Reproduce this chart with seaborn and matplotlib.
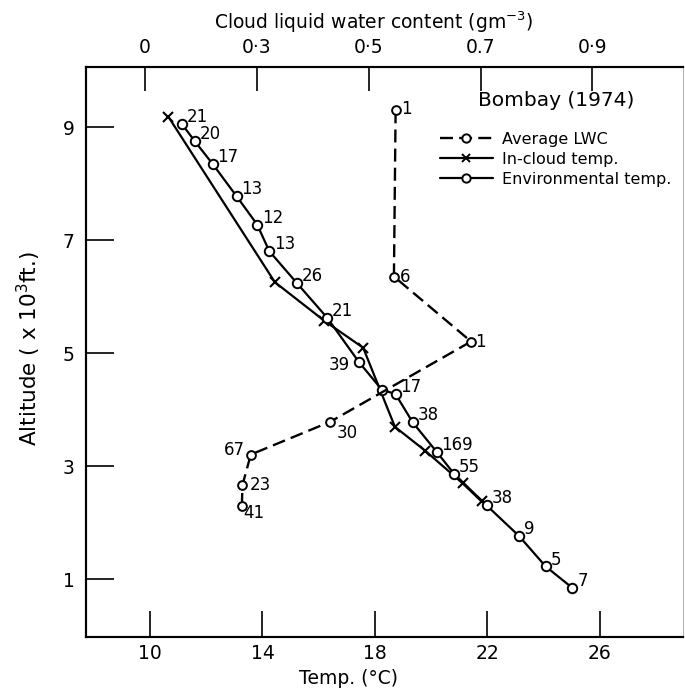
import matplotlib
matplotlib.use("Agg")
import matplotlib.pyplot as plt
import seaborn as sns
from matplotlib.lines import Line2D

# ---------------- data ----------------
# Environmental temperature (deg C) and altitude (x10^3 ft), with sample counts
env_temp = [11.13, 11.60, 12.23, 13.08, 13.81, 14.24, 15.23, 16.30, 17.44,
            18.24, 18.73, 19.34, 20.19, 20.81, 21.97, 23.12, 24.07, 25.02]
env_alt = [9.06, 8.75, 8.35, 7.78, 7.28, 6.81, 6.24, 5.63, 4.84,
           4.36, 4.28, 3.78, 3.26, 2.87, 2.31, 1.77, 1.23, 0.85]
env_count = ["21", "20", "17", "13", "12", "13", "26", "21", "39",
             "", "17", "38", "169", "55", "38", "9", "5", "7"]

# In-cloud temperature
cloud_temp = [10.65, 14.44, 16.19, 17.58, 18.71, 19.78, 21.12, 21.79]
cloud_alt = [9.19, 6.26, 5.58, 5.10, 3.70, 3.28, 2.70, 2.38]

# Average cloud liquid water content (g m^-3)
lwc = [0.548, 0.545, 0.683, 0.431, 0.289, 0.274, 0.273]
lwc_alt = [9.30, 6.36, 5.21, 3.79, 3.21, 2.67, 2.30]
lwc_count = ["1", "6", "1", "30", "67", "23", "41"]

temp_ticks = [10, 14, 18, 22, 26]
alt_ticks = [1, 3, 5, 7, 9]
lwc_ticks = [0.1, 0.3, 0.5, 0.7, 0.9]
lwc_ticklabels = ["0", "0·3", "0·5", "0.7", "0·9"]

# ---------------- style ----------------
sns.set_theme(style="ticks", rc={"text.color": "black",
                                 "axes.labelcolor": "black",
                                 "xtick.color": "black",
                                 "ytick.color": "black",
                                 "axes.edgecolor": "black"})
plt.rcParams["font.family"] = ["DejaVu Sans"]

fig = plt.figure(figsize=(6.85, 6.9), dpi=100)
ax = fig.add_axes([0.1255, 0.0773, 0.8715, 0.8256])
ax2 = ax.twiny()

LW = 1.6
dash = (0, (5.5, 2.6))

sns.lineplot(x=env_temp, y=env_alt, sort=False, estimator=None, ax=ax,
             color="black", lw=LW, marker="o", markersize=6.8,
             markerfacecolor="white", markeredgecolor="black",
             markeredgewidth=1.4, legend=False, zorder=3)
sns.lineplot(x=cloud_temp, y=cloud_alt, sort=False, estimator=None, ax=ax,
             color="black", lw=LW, marker="x", markersize=6.5,
             markeredgewidth=1.5, markeredgecolor="black", legend=False,
             zorder=2)
sns.lineplot(x=lwc, y=lwc_alt, sort=False, estimator=None, ax=ax2,
             color="black", lw=1.7, linestyle=dash, marker="o", markersize=6.3,
             markerfacecolor="white", markeredgecolor="black",
             markeredgewidth=1.4, legend=False, zorder=3)

# ---------------- axes ----------------
ax.set_xlim(7.724, 28.95)
ax.set_ylim(-0.012, 10.067)
ax2.set_xlim(-0.0059, 1.062)

ax.set_xticks(temp_ticks)
ax.set_yticks(alt_ticks)
ax2.set_xticks(lwc_ticks)
ax2.set_xticklabels(lwc_ticklabels)

ax.tick_params(axis="x", which="both", direction="in", length=19, width=1.2,
               labelsize=13.5, pad=5, top=False, bottom=True,
               colors="black", labelcolor="black")
ax.tick_params(axis="y", which="both", direction="in", length=20, width=1.2,
               labelsize=13.5, pad=8, left=True, right=False,
               colors="black", labelcolor="black")
ax2.tick_params(axis="x", which="both", direction="in", length=17, width=1.2,
                labelsize=13.5, pad=7, top=True, bottom=False,
                colors="black", labelcolor="black")

for a in (ax, ax2):
    for side in ("left", "bottom", "top"):
        a.spines[side].set_linewidth(1.5)
        a.spines[side].set_color("black")
    a.spines["right"].set_linewidth(0.7)
    a.spines["right"].set_color("#b0b0b0")
    a.spines["right"].set_visible(True)
    a.spines["top"].set_visible(True)

ax.set_xlabel("Temp. (°C)", fontsize=13.5, color="black")
ax.xaxis.set_label_coords(0.44, -0.056)
ax.set_ylabel("Altitude ( x 10$^3$ft.)", fontsize=15.5, color="black")
ax.yaxis.set_label_coords(-0.072, 0.505)
ax2.set_xlabel("Cloud liquid water content (gm$^{-3}$)", fontsize=13.5,
               color="black")
ax2.xaxis.set_label_coords(0.482, 1.066)
ax2.set_ylabel("")

# ---------------- point labels ----------------
LBL = 12
env_pos = {8: ("right", -7, -2)}
for i, (t, a, s) in enumerate(zip(env_temp, env_alt, env_count)):
    if not s:
        continue
    ha, dx, dy = env_pos.get(i, ("left", 3.5, 5))
    ax.annotate(s, (t, a), xytext=(dx, dy), textcoords="offset points",
                ha=ha, va="center", fontsize=LBL, color="black", zorder=5)

lwc_pos = {0: ("left", 4, 1), 1: ("left", 4, 0), 2: ("left", 3, 0),
           3: ("left", 5, -8), 4: ("right", -4, 3.5), 5: ("left", 5, 0),
           6: ("left", 1, -5)}
for i, (v, a, s) in enumerate(zip(lwc, lwc_alt, lwc_count)):
    ha, dx, dy = lwc_pos[i]
    ax2.annotate(s, (v, a), xytext=(dx, dy), textcoords="offset points",
                 ha=ha, va="center", fontsize=LBL, color="black", zorder=5)

# ---------------- legend ----------------
ax2.text(0.657, 0.942, "Bombay (1974)", transform=ax2.transAxes,
         ha="left", va="center", fontsize=14.5, color="black")
handles = [
    Line2D([], [], color="black", lw=1.7, linestyle=dash, marker="o",
           markersize=6, markerfacecolor="white", markeredgecolor="black",
           markeredgewidth=1.4),
    Line2D([], [], color="black", lw=LW, marker="x", markersize=6,
           markeredgewidth=1.4, markeredgecolor="black"),
    Line2D([], [], color="black", lw=LW, marker="o", markersize=6,
           markerfacecolor="white", markeredgecolor="black",
           markeredgewidth=1.4),
]
labels = ["Average LWC", "In-cloud temp.", "Environmental temp."]
leg = ax2.legend(handles, labels, loc="upper left",
                 bbox_to_anchor=(0.593, 0.886), borderpad=0,
                 borderaxespad=0, frameon=False, handlelength=3.3,
                 handletextpad=0.6, labelspacing=0.3, fontsize=11.5,
                 numpoints=1, labelcolor="black")

fig.savefig("out.png", dpi=100)
